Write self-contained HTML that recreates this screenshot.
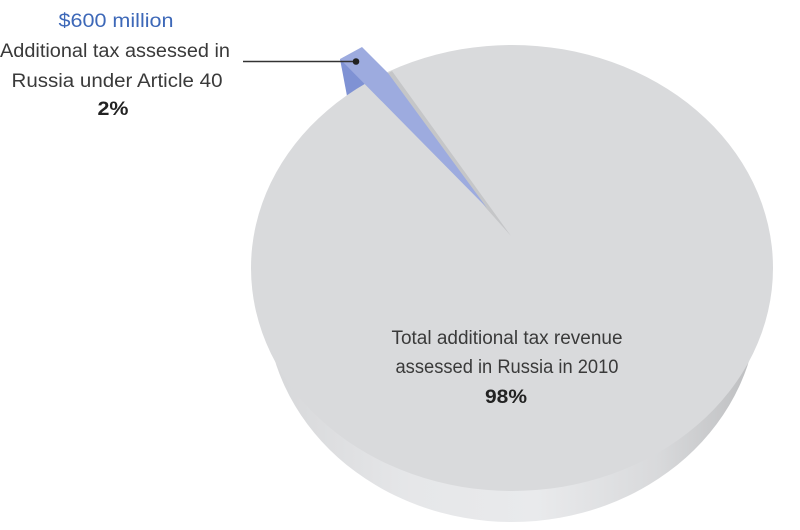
<!DOCTYPE html>
<html>
<head>
<meta charset="utf-8">
<style>
html,body{margin:0;padding:0;background:#fff;}
svg{display:block;}
text{font-family:"Liberation Sans",sans-serif;}
</style>
</head>
<body>
<svg width="800" height="530" viewBox="0 0 800 530" xmlns="http://www.w3.org/2000/svg">
<defs>
<linearGradient id="side" x1="0" y1="0" x2="1" y2="0">
<stop offset="0" stop-color="#d6d7d9"/>
<stop offset="0.3" stop-color="#e6e7e9"/>
<stop offset="0.55" stop-color="#e9eaec"/>
<stop offset="0.8" stop-color="#d8d9db"/>
<stop offset="1" stop-color="#bcbdbf"/>
</linearGradient>
</defs>
<rect width="800" height="530" fill="#fff"/>
<!-- side of disc -->
<ellipse cx="512" cy="302" rx="246" ry="220" fill="url(#side)"/>
<!-- dark outer face of wedge (behind pie) -->
<polygon points="340,59 358,66 366,88 347,96" fill="#7f92d4"/>
<!-- top face -->
<ellipse cx="512" cy="268" rx="261" ry="223" fill="#d9dadc"/>
<!-- cut face of pie -->
<polygon points="387,74 392,71 511,236 486,208" fill="#c5c6c8"/>
<!-- light wedge top face -->
<polygon points="340,59 362,47 388,73 487,208" fill="#9dabdf"/>
<!-- leader -->
<line x1="243" y1="61.5" x2="355" y2="61.5" stroke="#333" stroke-width="1.6"/>
<circle cx="356" cy="61.5" r="3.3" fill="#222"/>
<!-- left labels -->
<text x="116" y="27" font-size="19" fill="#3d68b8" text-anchor="middle" textLength="115" lengthAdjust="spacingAndGlyphs">$600 million</text>
<text x="115" y="57" font-size="19" fill="#3a3a3a" text-anchor="middle" textLength="230" lengthAdjust="spacingAndGlyphs">Additional tax assessed in</text>
<text x="117" y="87" font-size="19" fill="#3a3a3a" text-anchor="middle" textLength="211" lengthAdjust="spacingAndGlyphs">Russia under Article 40</text>
<text x="113" y="115" font-size="19" font-weight="bold" fill="#222" text-anchor="middle" textLength="31" lengthAdjust="spacingAndGlyphs">2%</text>
<!-- pie label -->
<text x="507" y="344" font-size="19" fill="#3a3a3a" text-anchor="middle" textLength="231" lengthAdjust="spacingAndGlyphs">Total additional tax revenue</text>
<text x="507" y="373" font-size="19" fill="#3a3a3a" text-anchor="middle" textLength="223" lengthAdjust="spacingAndGlyphs">assessed in Russia in 2010</text>
<text x="506" y="403" font-size="19" font-weight="bold" fill="#222" text-anchor="middle" textLength="42" lengthAdjust="spacingAndGlyphs">98%</text>
</svg>
</body>
</html>
